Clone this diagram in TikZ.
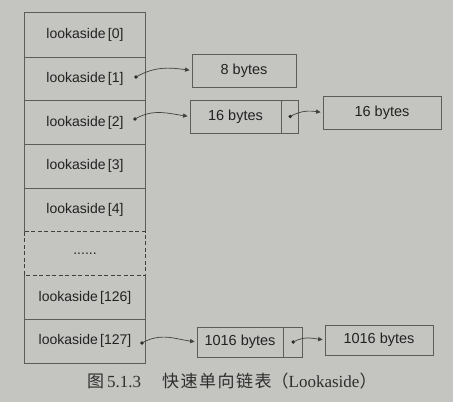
\documentclass[tikz,border=0pt]{standalone}
\usepackage{fontspec}
\setmainfont{Liberation Sans}
\newfontfamily\cjk{Noto Sans CJK SC}
\newfontfamily\capserif{Liberation Serif}
\usetikzlibrary{arrows.meta}
\definecolor{bgc}{RGB}{196,196,193}
\definecolor{linec}{RGB}{92,92,92}
\definecolor{txtc}{RGB}{34,34,34}
\begin{document}
\begin{tikzpicture}[x=1pt,y=1pt,
 cell/.style={minimum width=120pt,minimum height=43.75pt,inner sep=0pt,text=txtc,font=\fontsize{14}{16}\selectfont},
 bytebox/.style={draw=linec,line width=0.8pt,inner sep=0pt,text=txtc,font=\fontsize{14.5}{16}\selectfont},
 ptrcell/.style={draw=linec,line width=0.8pt,inner sep=0pt},
 border/.style={draw=linec,line width=0.8pt},
 dashborder/.style={draw=black!75,line width=1.1pt,dash pattern=on 4pt off 2.5pt},
 link/.style={draw=black!75,line width=0.7pt,-{Triangle[length=4.5pt,width=4.2pt]},shorten >=2pt},
 dotc/.style={circle,fill=black!85,inner sep=0pt,minimum size=3.8pt}
]
\fill[bgc] (0,0) rectangle (453,-402);
\useasboundingbox (0,0) rectangle (453,-402);

% column cells
\node[cell] (r0) at (85,-34.9) {lookaside\,[0]};
\node[cell] (r1) at (85,-78.6) {lookaside\,[1]};
\node[cell] (r2) at (85,-122.4) {lookaside\,[2]};
\node[cell] (r3) at (85,-166.1) {lookaside\,[3]};
\node[cell] (r4) at (85,-209.9) {lookaside\,[4]};
\node[cell] (r5) at (85,-253.6) {......};
\node[cell] (r6) at (85,-297.4) {lookaside\,[126]};
\node[cell] (r7) at (85,-341.1) {lookaside\,[127]};

% column borders
\draw[border] (r4.south west) -- (r0.north west) -- (r0.north east) -- (r4.south east);
\draw[border] (r0.south west) -- (r0.south east);
\draw[border] (r1.south west) -- (r1.south east);
\draw[border] (r2.south west) -- (r2.south east);
\draw[border] (r3.south west) -- (r3.south east);
\draw[border] (r6.north west) -- (r7.south west) -- (r7.south east) -- (r6.north east);
\draw[border] (r6.south west) -- (r6.south east);
\draw[dashborder] (r5.north west) rectangle (r5.south east);

% byte boxes
\node[bytebox,minimum width=104pt,minimum height=33pt] (b8) at (244,-70.5) {8 bytes};
\node[bytebox,minimum width=91pt,minimum height=33pt] (b16a) at (235.5,-116.5) {16 bytes};
\node[ptrcell,minimum width=17pt,minimum height=33pt,anchor=west] (p16a) at (b16a.east) {};
\node[bytebox,minimum width=118pt,minimum height=33pt] (b16b) at (382,-112.5) {16 bytes};
\node[bytebox,minimum width=86pt,minimum height=30pt] (b1016a) at (240,-342) {1016 bytes};
\node[ptrcell,minimum width=19pt,minimum height=30pt,anchor=west] (p1016a) at (b1016a.east) {};
\node[bytebox,minimum width=108pt,minimum height=30pt] (b1016b) at (379,-340) {1016 bytes};

% pointer dots
\node[dotc] (d1) at (136,-77) {};
\node[dotc] (d2) at (135,-119) {};
\node[dotc] (d127) at (142,-343) {};
\node[dotc] (d16) at (p16a.center) {};
\node[dotc] (d1016) at (p1016a.center) {};

% links
\draw[link] (d1.center) to[out=30,in=172] (b8.west);
\draw[link] (d2.center) to[out=30,in=172] (b16a.west);
\draw[link] (d127.center) to[out=30,in=172] (b1016a.west);
\draw[link] (d16.center) to[out=30,in=172] (b16b.west);
\draw[link] (d1016.center) to[out=30,in=172] (b1016b.west);

% caption
\node[anchor=west,text=black!82,inner sep=0pt] (cap) at (87,-381)
 {\fontsize{17}{19}\selectfont{\cjk 图}\hspace{3pt}{\capserif 5.1.3}\hspace{21pt}{\cjk 快\hspace{1.5pt}速\hspace{1.5pt}单\hspace{1.5pt}向\hspace{1.5pt}链\hspace{1.5pt}表（}{\capserif Lookaside}{\cjk ）}};
\end{tikzpicture}
\end{document}
